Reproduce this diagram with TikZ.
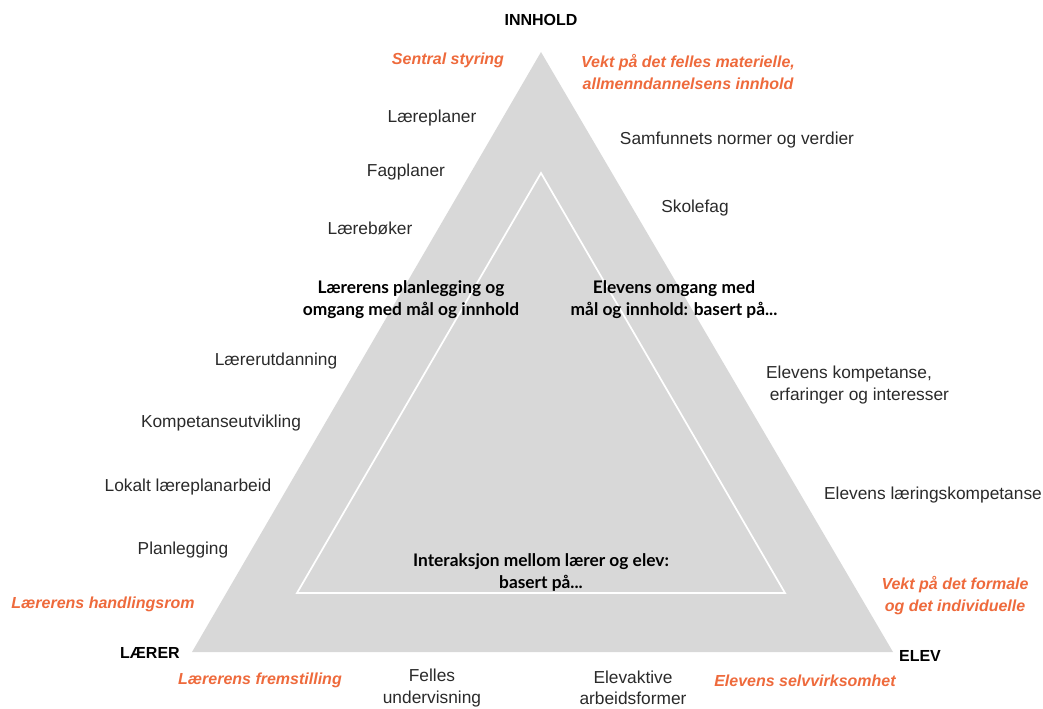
\documentclass[tikz,border=0pt]{standalone}
\usepackage{fontspec}
\setmainfont{Liberation Sans}
\newfontfamily\latofont{Lato}
\usepackage{tikz}
\usetikzlibrary{positioning,calc}
\definecolor{tgray}{HTML}{D8D8D8}
\definecolor{torange}{HTML}{EE6A3C}
\definecolor{tink}{HTML}{2A2A2A}
\tikzset{
  item/.style={font=\fontsize{13}{16}\selectfont,text=tink,align=center,inner sep=1pt},
  hint/.style={font=\fontsize{12}{16.5}\selectfont\bfseries\itshape,text=torange,align=center,inner sep=1pt},
  inner/.style={font=\fontsize{13}{16.5}\selectfont\latofont\bfseries,text=black,align=center,inner sep=1pt},
  corner/.style={font=\fontsize{12}{14}\selectfont\bfseries,text=black,inner sep=1pt},
}

\begin{document}
\begin{tikzpicture}[x=0.75pt,y=-0.75pt]
  \useasboundingbox (0,0) rectangle (1043,709);
  % trekanten
  \coordinate (top) at (541,52);
  \coordinate (left) at (192,652);
  \coordinate (right) at (893,652);
  \fill[tgray] (top) -- (left) -- (right) -- cycle;
  \draw[white,line width=1.3pt,line join=miter] (541,173) -- (297,593) -- (785,593) -- cycle;
  % hjørner
  \node[corner] (innhold) at (541,20) {INNHOLD};
  \node[corner] (laerer) at (150,653) {LÆRER};
  \node[corner] (elev) at (920,656) {ELEV};
  % oransje
  \node[hint] (sentral) at (448,60) {Sentral styring};
  \node[hint] (vekt1) at (688,72) {Vekt på det felles materielle,\\allmenndannelsens innhold};
  \node[hint] (handl) at (103,604) {Lærerens handlingsrom};
  \node[hint] (vekt2) at (955,596) {Vekt på det formale\\og det individuelle};
  \node[hint] (fremst) at (260,680) {Lærerens fremstilling};
  \node[hint] (selvv) at (805,681) {Elevens selvvirksomhet};
  % venstre side
  \node[item] (lplan) at (432,118) {Læreplaner};
  \node[item] (fplan) at (406,172) {Fagplaner};
  \node[item] (lbok) at (370,228) {Lærebøker};
  \node[item] (lutd) at (276,361) {Lærerutdanning};
  \node[item] (kutv) at (221,423) {Kompetanseutvikling};
  \node[item] (lokalt) at (188,487) {Lokalt læreplanarbeid};
  \node[item] (plan) at (183,550) {Planlegging};
  % høyre side
  \node[item] (normer) at (737,140) {Samfunnets normer og verdier};
  \node[item] (skole) at (695,208) {Skolefag};
  \node[item] (komp) at (849,385) {Elevens kompetanse,\\\hspace*{1.2em}erfaringer og interesser};
  \node[item] (lkomp) at (933,495) {Elevens læringskompetanse};
  % bunn
  \node[item] (felles) at (432,688) {Felles\\undervisning};
  \node[item] (elevakt) at (633,688) {Elevaktive\\arbeidsformer};
  % inne i trekanten
  \node[inner] (lplanl) at (411,300) {Lærerens planlegging og\\omgang med mål og innhold};
  \node[inner] (eomg) at (674,300) {Elevens omgang med\\mål og innhold: basert på...};
  \node[inner] (inter) at (541,573) {Interaksjon mellom lærer og elev:\\basert på...};
\end{tikzpicture}
\end{document}
